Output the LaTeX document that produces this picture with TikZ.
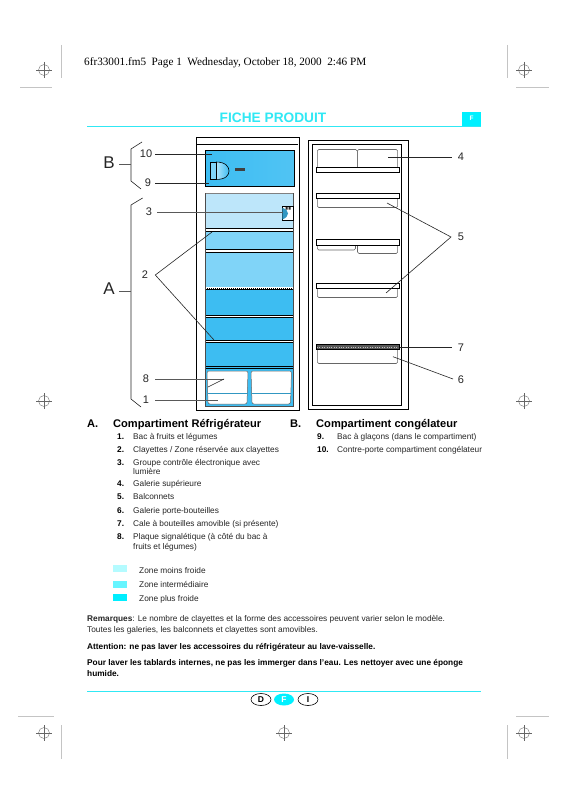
\documentclass[tikz,border=0pt]{standalone}
\usepackage{fontspec}
\setmainfont{Liberation Sans}
\newfontfamily\timesf{Liberation Serif}
\definecolor{cy}{HTML}{00F0FF}
\definecolor{titlec}{HTML}{30E8F4}
\definecolor{zoneA}{HTML}{BDE6FA}
\definecolor{zoneB}{HTML}{80D4F8}
\definecolor{zoneC}{HTML}{3DBDF2}
\definecolor{leg1}{HTML}{B4FBFF}
\definecolor{leg2}{HTML}{66F5FF}
\definecolor{leg3}{HTML}{00EEFF}
\definecolor{cropgray}{HTML}{C4C4C4}
\tikzset{
  lead/.style={draw=black!85,line width=.6pt},
  glead/.style={draw=black!65,line width=.7pt},
  frame/.style={draw=black,line width=.9pt,fill=white},
  rack/.style={draw=black,line width=.9pt,fill=white},
  bin/.style={draw=black!60,line width=.55pt,rounded corners=1.5pt},
  drawerbox/.style={draw=black!60,fill=white,line width=.5pt,rounded corners=2pt},
  num/.style={font=\fontsize{11}{11}\selectfont,inner sep=0pt,text=black!85},
  big/.style={font=\fontsize{17}{17}\selectfont,inner sep=0pt,text=black!85},
  head/.style={font=\bfseries\fontsize{11.1}{12}\selectfont,inner sep=0pt,anchor=base west},
  item/.style={font=\fontsize{8.3}{9}\selectfont,inner sep=0pt,anchor=base west,text=black!85},
  itemb/.style={font=\bfseries\fontsize{8.3}{9}\selectfont,inner sep=0pt,anchor=base west},
  oval/.style={ellipse,draw=black,line width=.6pt,minimum width=20pt,minimum height=12pt,inner sep=0pt,font=\bfseries\fontsize{8.5}{9}\selectfont},
}
\usetikzlibrary{shapes.geometric}
\newcommand{\regmark}[2]{%
  \draw[black!60,line width=.35pt] (#1,#2) circle (5.5pt);
  \draw[black!60,line width=.35pt] (#1-8,#2) -- (#1+8,#2) (#1,#2-8) -- (#1,#2+8);}
\begin{document}
\begin{tikzpicture}[x=1pt,y=-1pt]
\useasboundingbox (0,0) rectangle (565,800);
\fill[white] (0,0) rectangle (565,800);
% printer marks
\foreach \p/\q in {44/70,524/70,44/401,524/401,44/733,284/733,524/733}{\regmark{\p}{\q}}
\draw[draw=cropgray,line width=.8pt] (61,45)--(61,78) (507,45)--(507,78) (20,87)--(52,87) (516,87)--(549,87)
  (18,716)--(54,716) (516,716)--(549,716) (61,725)--(61,759) (507,725)--(507,759);
\node[anchor=base west,inner sep=0pt,font=\timesf\fontsize{11.2}{12}\selectfont] (hdr) at (84,66) {6fr33001.fm5\ \ Page 1\ \ Wednesday, October 18, 2000\ \ 2:46 PM};
% title
\node[inner sep=0pt,font=\bfseries\fontsize{13.7}{14}\selectfont,text=titlec] (title) at (273,117.5) {FICHE PRODUIT};
\draw[titlec,line width=.8pt] (87,126.5)--(481,126.5);
\fill[cy] (462,112) rectangle (481,125.5);
\node[inner sep=0pt,text=white,font=\bfseries\fontsize{6.5}{7}\selectfont] (fl) at (471.5,118) {F};
% fridge
\draw[frame] (196.3,137.7) rectangle (299.3,410);
\draw[black,line width=.7pt] (196.3,144.3)--(298,144.3);
\shade[left color=zoneC,right color=zoneC!90!white] (205.3,150.7) rectangle (294.3,186.3);
\draw[black,line width=.8pt] (205.3,150.7) rectangle (294.3,186.3);
% door lamp / dial
\shade[left color=zoneB!60!white,right color=zoneC] (216,162) .. controls (226,162) and (229,167) .. (229,171) .. controls (229,175) and (226,179.5) .. (216,179.5) -- cycle;
\draw[black,line width=.6pt] (216,162) .. controls (226,162) and (229,167) .. (229,171) .. controls (229,175) and (226,179.5) .. (216,179.5);
\draw[black,line width=.7pt,fill=zoneB] (210.5,162) rectangle (216,179.5);
\fill[black!75] (235,168.3) rectangle (245,171.3);
% compartments
\fill[zoneA] (205.5,193.3) rectangle (293.3,228);
\draw[black!50,line width=.3pt] (205.5,193.3) -- (293.3,193.3) -- (293.3,228) (205.5,228) -- (205.5,193.3);
\fill[zoneB] (205.5,231) rectangle (293.3,287);
\fill[zoneC] (205.5,289.5) rectangle (293.3,366);
\fill[zoneC] (205.5,367) rectangle (293.3,406.5);
\draw[black,line width=.6pt] (205.5,228.3)--(293.3,228.3) (205.5,231.3)--(293.3,231.3);
\draw[black,line width=.6pt] (205.5,249.5)--(293.3,249.5) (205.5,251.8)--(293.3,251.8);
\fill[white] (205.5,249.7) rectangle (293.3,251.6);
\fill[white] (205.5,228.5) rectangle (293.3,231.1);
\draw[black,line width=2pt] (205.5,288.5)--(293.3,288.5);
\draw[white,line width=.9pt,dash pattern=on 1pt off 1pt] (206,288.5)--(293,288.5);
\fill[white] (205.5,315) rectangle (293.3,317);
\draw[black,line width=.6pt] (205.5,315.2)--(293.3,315.2) (205.5,317.2)--(293.3,317.2);
\fill[white] (205.5,340.5) rectangle (293.3,342.5);
\draw[black,line width=.6pt] (205.5,340.4)--(293.3,340.4) (205.5,342.6)--(293.3,342.6);
\draw[black,line width=.8pt] (205.5,366)--(293.3,366) (205.5,368)--(293.3,368);
\draw[black!70,line width=.6pt] (205.5,193.3) -- (205.5,406.5) -- (293.3,406.5) -- (293.3,193.3);
\draw[drawerbox] (207,371) -- (248,371) -- (247,404) -- (208,404) -- cycle;
\draw[drawerbox] (251,371) -- (291.5,371) -- (290.5,404) -- (252,404) -- cycle;
\draw[zoneC!80!black,line width=.5pt] (207.5,393.5)--(247.5,393.5) (251.5,393.5)--(291,393.5);
% control panel
\draw[black,line width=.6pt,fill=white] (282.3,206.3) rectangle (293.3,220.5);
\fill[zoneC!80!black] (282.3,207.8) .. controls (286,209) and (288,211) .. (288,213.5) .. controls (288,216) and (286,218) .. (282.3,219.5) -- cycle;
\fill[black!85] (285.5,207) rectangle (287.5,209.5) (288.5,207) rectangle (290.5,209.5);
% freezer door side
\draw[frame] (308.3,140.7) rectangle (408.3,409.3);
\draw[black,line width=.9pt] (312.7,144.3) rectangle (401.7,405.3);
\draw[bin] (317.3,167.5) -- (317.3,149.5) -- (357.3,149.5) -- (357.3,167.5);
\draw[bin] (357.3,167.5) -- (357.3,149.5) -- (397.7,149.5) -- (397.7,167.5);
\draw[rack] (316.3,167.5) rectangle (399.7,172.5);
\draw[bin] (317.3,198) -- (317.3,207.5) -- (397.7,207.5) -- (397.7,198);
\draw[rack] (316.3,193.3) rectangle (399.7,198.3);
\draw[bin] (317.3,245) -- (317.3,250) -- (355.5,250) -- (355.5,245);
\draw[bin] (357.5,245) -- (357.5,253.5) -- (397.7,253.5) -- (397.7,245);
\draw[rack] (316.3,239.5) rectangle (399.7,245.5);
\draw[bin] (317.3,288) -- (317.3,297.5) -- (397.7,297.5) -- (397.7,288);
\draw[rack] (316.3,283.5) rectangle (399.7,288.5);
\draw[bin] (317.3,349) -- (317.3,363.5) -- (397.7,363.5) -- (397.7,349);
\fill[black!65] (316.3,344.5) rectangle (399.7,349.5);
\draw[black!25,line width=.5pt,dash pattern=on .8pt off 1.6pt] (317,347)--(399,347);
\draw[black,line width=.5pt] (316.3,344.5) rectangle (399.7,349.5);
% left labels
\node[big] (B) at (109,163) {B};
\node[big] (A) at (109,289) {A};
\coordinate (Bt) at (142,142); \coordinate (Bb) at (141,189);
\coordinate (At) at (142.6,198); \coordinate (Ab) at (141,407);
\draw[lead] (Bt)--(131,149)--(131,181)--(Bb);
\draw[lead] (At)--(131,205)--(131,399)--(Ab);
\coordinate (Bj) at (131,164); \coordinate (Aj) at (131,291);
\draw[glead] (119.3,164)--(Bj);
\draw[glead] (119.3,291)--(Aj);
\node[num] (n10) at (146,153.5) {10};
\node[num] (n9) at (148,183) {9};
\node[num] (n3) at (149,212) {3};
\node[num] (n2) at (145,275) {2};
\node[num] (n8) at (146,379) {8};
\node[num] (n1) at (146,400) {1};
\coordinate (p10) at (211.7,154); \coordinate (p9) at (209,183); \coordinate (p3) at (283,212.7);
\coordinate (a2) at (155.3,275); \coordinate (p2a) at (212,232); \coordinate (p2b) at (214,340);
\coordinate (a8) at (224,379); \coordinate (p8) at (208,387); \coordinate (p1) at (218,400);
\draw[lead] (155.3,154)--(p10);
\draw[lead] (155.3,183)--(p9);
\draw[glead] (157,212.7)--(p3);
\draw[lead] (p2a)--(a2)--(p2b);
\draw[glead] (155.3,379)--(a8);
\draw[lead] (a8)--(p8);
\draw[glead] (155.3,400)--(p1);
% right labels
\node[num] (n4) at (461,157) {4};
\node[num] (n5) at (461,237) {5};
\node[num] (n7) at (461,348) {7};
\node[num] (n6) at (461,380) {6};
\coordinate (a5) at (451,237);
\draw[lead] (388,157)--(452,157);
\draw[lead] (387,203)--(a5)--(386,293);
\draw[lead] (400,347)--(452,347);
\draw[lead] (393,356.7)--(453,379);
% text
\node[head] (tA) at (87,427) {A.};
\node[head] (tAh) at (113,427) {Compartiment Réfrigérateur};
\node[head] (tB) at (290,427) {B.};
\node[head] (tBh) at (316,427) {Compartiment congélateur};
\foreach \y/\n/\t in {439.5/1./{Bac à fruits et légumes},
 452.5/2./{Clayettes / Zone réservée aux clayettes},
 465.5/3./{Groupe contrôle électronique avec},
 486.5/4./{Galerie supérieure},
 499.5/5./{Balconnets},
 513/6./{Galerie porte-bouteilles},
 526/7./{Cale à bouteilles amovible (si présente)},
 539.5/8./{Plaque signalétique (à côté du bac à}}{
  \node[itemb] at (117,\y) {\n};
  \node[item] at (133,\y) {\t};}
\node[item] (l3) at (133,474.5) {lumière};
\node[item] (l8) at (133,549.5) {fruits et légumes)};
\node[itemb] (r9) at (317,439.5) {9.};
\node[item] (r9t) at (337,439.5) {Bac à glaçons (dans le compartiment)};
\node[itemb] (r10) at (317,452.5) {10.};
\node[item] (r10t) at (337,452.5) {Contre-porte compartiment congélateur};
% legend
\fill[leg1] (113,565) rectangle (127,572);
\fill[leg2] (113,581) rectangle (127,588);
\fill[leg3] (113,594) rectangle (127,601);
\node[item] (z1) at (139,573) {Zone moins froide};
\node[item] (z2) at (139,587) {Zone intermédiaire};
\node[item] (z3) at (139,601) {Zone plus froide};
% notes
\node[item] (m1) at (87,621) {\textbf{Remarques}: Le nombre de clayettes et la forme des accessoires peuvent varier selon le modèle.};
\node[item] (m2) at (87,632.5) {Toutes les galeries, les balconnets et clayettes sont amovibles.};
\node[itemb] (m3) at (87,649) {Attention: ne pas laver les accessoires du réfrigérateur au lave-vaisselle.};
\node[itemb] (m4) at (87,665) {Pour laver les tablards internes, ne pas les immerger dans l'eau. Les nettoyer avec une éponge};
\node[itemb] (m5) at (87,676) {humide.};
% footer
\draw[titlec,line width=.8pt] (87,691)--(481,691);
\node[oval] (oD) at (261,699.5) {D};
\node[oval,draw=none,fill=cy,text=white] (oF) at (284,699.5) {F};
\node[oval] (oI) at (308,699.5) {I};
\end{tikzpicture}
\end{document}
